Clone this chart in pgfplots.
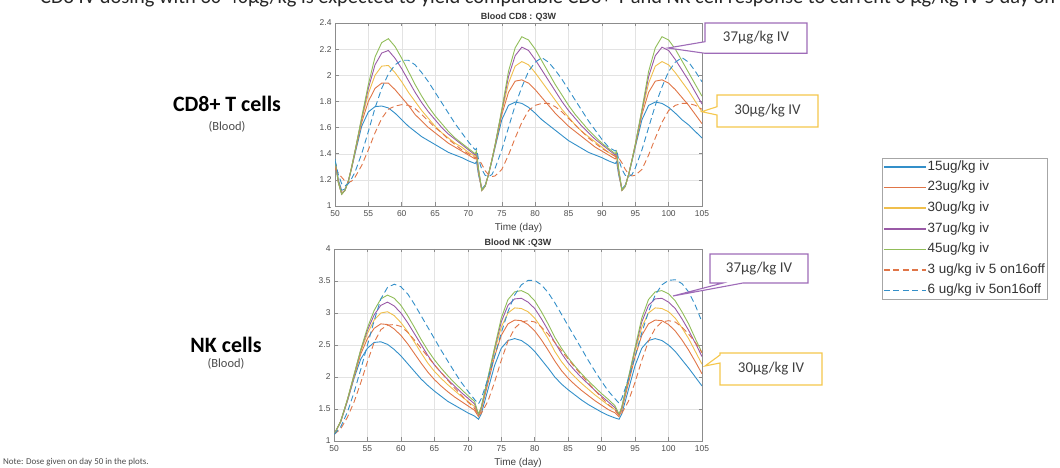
\documentclass[border=0pt]{standalone}
\usepackage{fontspec}
\setmainfont{Liberation Sans}
\newfontfamily\calibri{Carlito}
\usepackage{pgfplots}
\usepackage{pgfplotstable}
\pgfplotsset{compat=1.18}

\definecolor{mblue}{rgb}{0.20,0.56,0.79}
\definecolor{morange}{rgb}{0.88,0.46,0.28}
\definecolor{myellow}{rgb}{0.94,0.75,0.30}
\definecolor{mpurple}{rgb}{0.60,0.35,0.65}
\definecolor{mgreen}{rgb}{0.57,0.74,0.35}
\definecolor{cpurple}{rgb}{0.62,0.42,0.72}
\definecolor{cyellow}{rgb}{0.96,0.78,0.30}

% CD8 (x10^9): t, 15, 23, 30, 37, 45 ug/kg, 3 ug/kg 5on16off, 6 ug/kg 5on16off
\pgfplotstableread{
t a b c d e f g
50 1.36 1.35 1.35 1.35 1.35 1.29 1.35
50.5 1.20 1.19 1.18 1.18 1.18 1.25 1.24
51 1.12 1.10 1.09 1.09 1.09 1.22 1.17
51.5 1.13 1.12 1.12 1.12 1.12 1.19 1.155
52 1.19 1.19 1.19 1.19 1.19 1.18 1.17
52.5 1.29 1.29 1.30 1.30 1.30 1.19 1.21
53 1.40 1.41 1.42 1.42 1.42 1.22 1.26
54 1.61 1.64 1.66 1.67 1.68 1.31 1.40
55 1.72 1.80 1.86 1.90 1.93 1.43 1.57
56 1.76 1.90 2.00 2.08 2.14 1.56 1.75
57 1.765 1.94 2.07 2.17 2.25 1.67 1.90
58 1.75 1.94 2.075 2.19 2.28 1.74 2.01
59 1.71 1.89 2.02 2.13 2.22 1.765 2.08
60 1.66 1.83 1.95 2.05 2.13 1.775 2.115
61 1.61 1.77 1.87 1.96 2.03 1.77 2.115
62 1.57 1.70 1.80 1.87 1.93 1.745 2.08
63 1.53 1.65 1.73 1.79 1.84 1.70 2.02
64 1.50 1.60 1.67 1.72 1.76 1.65 1.95
65 1.47 1.56 1.61 1.66 1.69 1.60 1.87
66 1.44 1.52 1.56 1.60 1.63 1.56 1.79
67 1.41 1.48 1.52 1.55 1.57 1.51 1.71
68 1.39 1.45 1.48 1.51 1.52 1.47 1.63
69 1.37 1.42 1.45 1.47 1.48 1.43 1.56
70 1.345 1.39 1.41 1.43 1.44 1.40 1.49
71 1.325 1.36 1.38 1.39 1.40 1.37 1.43
71.2 1.34 1.38 1.40 1.41 1.42 1.37 1.44
71.5 1.24 1.26 1.27 1.28 1.29 1.36 1.36
72 1.13 1.12 1.12 1.12 1.12 1.32 1.28
72.5 1.16 1.15 1.15 1.15 1.15 1.27 1.235
73 1.24 1.24 1.24 1.24 1.24 1.24 1.225
73.5 1.34 1.35 1.35 1.35 1.35 1.225 1.24
74 1.45 1.46 1.47 1.47 1.47 1.23 1.29
75 1.66 1.70 1.72 1.73 1.74 1.28 1.43
76 1.77 1.87 1.94 1.99 2.03 1.39 1.60
77 1.795 1.955 2.07 2.15 2.21 1.52 1.77
78 1.785 1.965 2.105 2.215 2.295 1.64 1.91
79 1.755 1.94 2.08 2.19 2.27 1.73 2.03
80 1.71 1.89 2.02 2.12 2.20 1.77 2.10
81 1.66 1.83 1.95 2.04 2.11 1.785 2.135
82 1.62 1.77 1.88 1.96 2.02 1.785 2.10
83 1.58 1.71 1.81 1.88 1.93 1.76 2.04
84 1.54 1.66 1.74 1.80 1.85 1.72 1.97
85 1.50 1.61 1.68 1.73 1.77 1.67 1.89
86 1.47 1.57 1.62 1.67 1.70 1.62 1.81
87 1.44 1.53 1.57 1.61 1.64 1.57 1.73
88 1.41 1.49 1.53 1.56 1.58 1.52 1.65
89 1.39 1.45 1.49 1.51 1.53 1.48 1.58
90 1.37 1.42 1.45 1.47 1.48 1.44 1.51
91 1.345 1.39 1.41 1.43 1.44 1.41 1.45
92 1.325 1.36 1.38 1.39 1.40 1.38 1.42
92.2 1.34 1.38 1.40 1.41 1.42 1.38 1.43
92.5 1.24 1.26 1.27 1.28 1.29 1.37 1.36
93 1.13 1.12 1.12 1.12 1.12 1.33 1.28
93.5 1.16 1.15 1.15 1.15 1.15 1.28 1.235
94 1.24 1.24 1.24 1.24 1.24 1.245 1.225
94.5 1.34 1.35 1.35 1.35 1.35 1.23 1.24
95 1.45 1.46 1.47 1.47 1.47 1.235 1.29
96 1.66 1.70 1.72 1.73 1.74 1.28 1.43
97 1.77 1.87 1.94 1.99 2.03 1.39 1.60
98 1.795 1.955 2.07 2.15 2.21 1.52 1.77
99 1.785 1.965 2.105 2.215 2.295 1.64 1.91
100 1.755 1.94 2.08 2.19 2.27 1.73 2.03
101 1.71 1.89 2.02 2.12 2.20 1.77 2.10
102 1.66 1.83 1.95 2.04 2.11 1.785 2.135
103 1.62 1.77 1.88 1.96 2.02 1.785 2.10
104 1.57 1.70 1.80 1.87 1.93 1.77 2.03
105 1.52 1.63 1.72 1.78 1.84 1.74 1.95
}\cdeight

% NK (x10^8)
\pgfplotstableread{
t a b c d e f g
50 1.10 1.10 1.10 1.10 1.10 1.10 1.10
51 1.30 1.30 1.31 1.31 1.31 1.19 1.22
52 1.62 1.63 1.64 1.64 1.65 1.37 1.45
53 1.98 2.00 2.02 2.03 2.04 1.61 1.76
54 2.28 2.36 2.40 2.42 2.43 1.91 2.12
55 2.45 2.60 2.68 2.73 2.77 2.24 2.50
56 2.54 2.76 2.89 2.97 3.04 2.54 2.88
57 2.55 2.83 3.00 3.12 3.22 2.74 3.22
58 2.51 2.82 3.02 3.17 3.28 2.81 3.40
59 2.43 2.75 2.96 3.11 3.23 2.82 3.45
60 2.33 2.65 2.85 3.00 3.12 2.79 3.41
61 2.21 2.52 2.71 2.85 2.96 2.70 3.30
62 2.09 2.37 2.55 2.68 2.78 2.58 3.14
63 1.97 2.22 2.38 2.51 2.59 2.45 2.96
64 1.87 2.08 2.22 2.34 2.42 2.32 2.78
65 1.78 1.96 2.09 2.19 2.27 2.19 2.60
66 1.70 1.86 1.98 2.07 2.14 2.07 2.42
67 1.62 1.77 1.88 1.96 2.02 1.95 2.25
68 1.56 1.69 1.79 1.86 1.91 1.83 2.08
69 1.50 1.62 1.70 1.76 1.81 1.72 1.92
70 1.44 1.55 1.62 1.67 1.71 1.61 1.78
71 1.39 1.48 1.54 1.58 1.62 1.51 1.65
71.6 1.34 1.38 1.40 1.41 1.42 1.40 1.58
72 1.42 1.48 1.51 1.52 1.53 1.43 1.66
73 1.80 1.90 1.95 1.97 1.99 1.62 1.97
74 2.18 2.32 2.40 2.44 2.46 1.92 2.32
75 2.45 2.65 2.78 2.86 2.92 2.26 2.69
76 2.57 2.83 3.00 3.12 3.21 2.56 3.02
77 2.60 2.89 3.08 3.22 3.33 2.76 3.28
78 2.57 2.88 3.07 3.23 3.35 2.86 3.44
79 2.50 2.82 3.02 3.17 3.30 2.88 3.51
80 2.40 2.72 2.92 3.07 3.19 2.86 3.51
81 2.27 2.58 2.77 2.91 3.02 2.78 3.44
82 2.14 2.42 2.60 2.73 2.83 2.67 3.32
83 2.00 2.25 2.40 2.54 2.62 2.54 3.16
84 1.89 2.10 2.24 2.37 2.45 2.41 2.98
85 1.80 1.98 2.11 2.22 2.30 2.28 2.80
86 1.72 1.88 2.00 2.10 2.17 2.15 2.62
87 1.64 1.79 1.90 1.99 2.05 2.03 2.44
88 1.57 1.71 1.81 1.89 1.94 1.91 2.26
89 1.51 1.63 1.72 1.79 1.84 1.79 2.09
90 1.45 1.56 1.64 1.70 1.74 1.68 1.93
91 1.40 1.49 1.56 1.61 1.65 1.57 1.78
92 1.36 1.44 1.49 1.52 1.55 1.48 1.66
92.6 1.34 1.38 1.40 1.41 1.42 1.40 1.59
93 1.42 1.48 1.51 1.52 1.53 1.43 1.66
94 1.80 1.90 1.95 1.97 1.99 1.62 1.97
95 2.18 2.32 2.40 2.44 2.46 1.92 2.32
96 2.45 2.65 2.78 2.86 2.92 2.26 2.69
97 2.57 2.83 3.00 3.12 3.21 2.56 3.02
98 2.60 2.89 3.08 3.22 3.33 2.76 3.28
99 2.57 2.88 3.07 3.23 3.35 2.86 3.44
100 2.50 2.82 3.02 3.17 3.30 2.88 3.51
101 2.40 2.72 2.92 3.07 3.19 2.86 3.52
102 2.27 2.58 2.77 2.91 3.02 2.78 3.46
103 2.14 2.42 2.60 2.73 2.83 2.67 3.33
104 2.00 2.24 2.40 2.53 2.60 2.54 3.12
105 1.86 2.05 2.20 2.32 2.38 2.38 2.86
}\nk

\pgfplotsset{
  mat/.style={
    scale only axis,
    xmin=50, xmax=105,
    xtick={50,55,60,65,70,75,80,85,90,95,100,105},
    grid=major,
    major grid style={black!11, line width=0.4bp},
    axis line style={black!45, line width=0.5bp},
    tick style={black!45, line width=0.5bp},
    tick align=inside,
    major tick length=3.5bp,
    ticklabel style={font=\fontsize{8.5}{9}\selectfont, text=black!70},
    xticklabel style={yshift=-1bp},
    /pgf/number format/assume math mode=true,
    xlabel={Time (day)},
    xlabel style={font=\fontsize{10}{11}\selectfont, text=black!75, at={(0.5,0)}, anchor=north, yshift=-14bp},
    every axis title shift=0pt,
    title style={font=\bfseries\fontsize{9}{10}\selectfont, text=black!80, at={(0.5,1)}, anchor=south, inner sep=1.5bp},
    every axis plot/.append style={line width=0.9bp},
    legend image code/.code={\draw[##1, line width=1.5bp] (0bp,0bp) -- (42bp,0bp);},
  },
  dsh/.style={dash pattern=on 6bp off 3.5bp},
}

\begin{document}
\begin{tikzpicture}
\useasboundingbox (0,0) rectangle (1060bp,468bp);
\clip (0,0) rectangle (1060bp,468bp);

% top, clipped text line
\node[anchor=base west, font=\calibri\fontsize{20.5}{21}\selectfont, text=black!85, inner sep=0pt] at (40bp,464bp)
  {CD8 IV dosing with 30-40µg/kg is expected to yield comparable CD8+ T and NK cell response to current 6 µg/kg IV 5 day on 16 day off};

% ---- CD8 axis ----
\begin{axis}[mat,
  at={(335bp,262bp)}, anchor=south west,
  width=367bp, height=183bp,
  ymin=1, ymax=2.4,
  ytick={1,1.2,1.4,1.6,1.8,2,2.2,2.4},
  title={Blood CD8 : Q3W},
]
\addplot[mblue] table[x=t,y=a]{\cdeight};
\addplot[morange] table[x=t,y=b]{\cdeight};
\addplot[myellow] table[x=t,y=c]{\cdeight};
\addplot[mpurple] table[x=t,y=d]{\cdeight};
\addplot[mgreen] table[x=t,y=e]{\cdeight};
\addplot[morange, dsh] table[x=t,y=f]{\cdeight};
\addplot[mblue, dsh] table[x=t,y=g]{\cdeight};
\node[anchor=south west, font=\fontsize{7.5}{8}\selectfont, text=black!70, inner sep=1pt] at (rel axis cs:0,1) {×10\textsuperscript{9}};
\end{axis}

% ---- NK axis ----
\begin{axis}[mat,
  at={(334bp,27bp)}, anchor=south west,
  width=368bp, height=192bp,
  ymin=1, ymax=4,
  ytick={1,1.5,2,2.5,3,3.5,4},
  title={Blood NK :Q3W},
  legend cell align=left,
  legend style={at={(axis description cs:1.489,1.474)}, anchor=north west,
    draw=black!35, fill=white, line width=0.5bp,
    inner xsep=1bp, inner ysep=1.5bp,
    font=\fontsize{13.5}{14}\selectfont, text=black!80,
    nodes={inner sep=1bp, text height=9.5bp, text depth=3bp},
    row sep=6.1bp,
    /tikz/every even column/.append style={column sep=0bp}},
]
\addplot[mblue] table[x=t,y=a]{\nk};
\addplot[morange] table[x=t,y=b]{\nk};
\addplot[myellow] table[x=t,y=c]{\nk};
\addplot[mpurple] table[x=t,y=d]{\nk};
\addplot[mgreen] table[x=t,y=e]{\nk};
\addplot[morange, dsh] table[x=t,y=f]{\nk};
\addplot[mblue, dsh] table[x=t,y=g]{\nk};
\legend{15ug/kg iv,23ug/kg iv,30ug/kg iv,37ug/kg iv,45ug/kg iv,3 ug/kg iv 5 on16off,6 ug/kg iv 5on16off}
\node[anchor=south west, font=\fontsize{7.5}{8}\selectfont, text=black!70, inner sep=1pt] at (rel axis cs:0,1) {×10\textsuperscript{8}};
\end{axis}

% ---- left labels ----
\node[font=\calibri\bfseries\fontsize{22}{24}\selectfont] at (227bp,364bp) {CD8+ T cells};
\node[font=\calibri\fontsize{12.5}{13}\selectfont, text=black!70] at (227bp,341bp) {(Blood)};
\node[font=\calibri\bfseries\fontsize{22}{24}\selectfont] at (226bp,123bp) {NK cells};
\node[font=\calibri\fontsize{12.5}{13}\selectfont, text=black!70] at (226bp,104bp) {(Blood)};

% ---- callouts ----
\draw[cpurple, line width=1.1bp, fill=white] (705bp,445bp) -- (807bp,445bp) -- (807bp,414.7bp) -- (705bp,414.7bp) -- (668bp,420bp) -- (705bp,426.3bp) -- cycle;
\node[font=\calibri\fontsize{15}{16}\selectfont, text=black!75] at (756bp,430bp) {37µg/kg IV};
\draw[cyellow, line width=1.1bp, fill=white] (717bp,373bp) -- (818bp,373bp) -- (818bp,341bp) -- (717bp,341bp) -- (717bp,353bp) -- (701.7bp,356.3bp) -- (717bp,361.3bp) -- cycle;
\node[font=\calibri\fontsize{15}{16}\selectfont, text=black!75] at (767.5bp,357bp) {30µg/kg IV};
\draw[cpurple, line width=1.1bp, fill=white] (710bp,214bp) -- (808bp,214bp) -- (808bp,185bp) -- (743bp,185bp) -- (673bp,172bp) -- (723bp,185bp) -- (710bp,185bp) -- cycle;
\node[font=\calibri\fontsize{15}{16}\selectfont, text=black!75] at (759bp,199.5bp) {37µg/kg IV};
\draw[cyellow, line width=1.1bp, fill=white] (720bp,115bp) -- (822bp,115bp) -- (822bp,83bp) -- (720bp,83bp) -- (720bp,105bp) -- (705bp,102bp) -- (720bp,113bp) -- cycle;
\node[font=\calibri\fontsize{15}{16}\selectfont, text=black!75] at (771bp,99bp) {30µg/kg IV};

% ---- note ----
\node[anchor=west, font=\calibri\fontsize{9}{10}\selectfont, text=black!70, inner sep=0pt] at (3bp,6bp) {Note: Dose given on day 50 in the plots.};
\end{tikzpicture}
\end{document}
